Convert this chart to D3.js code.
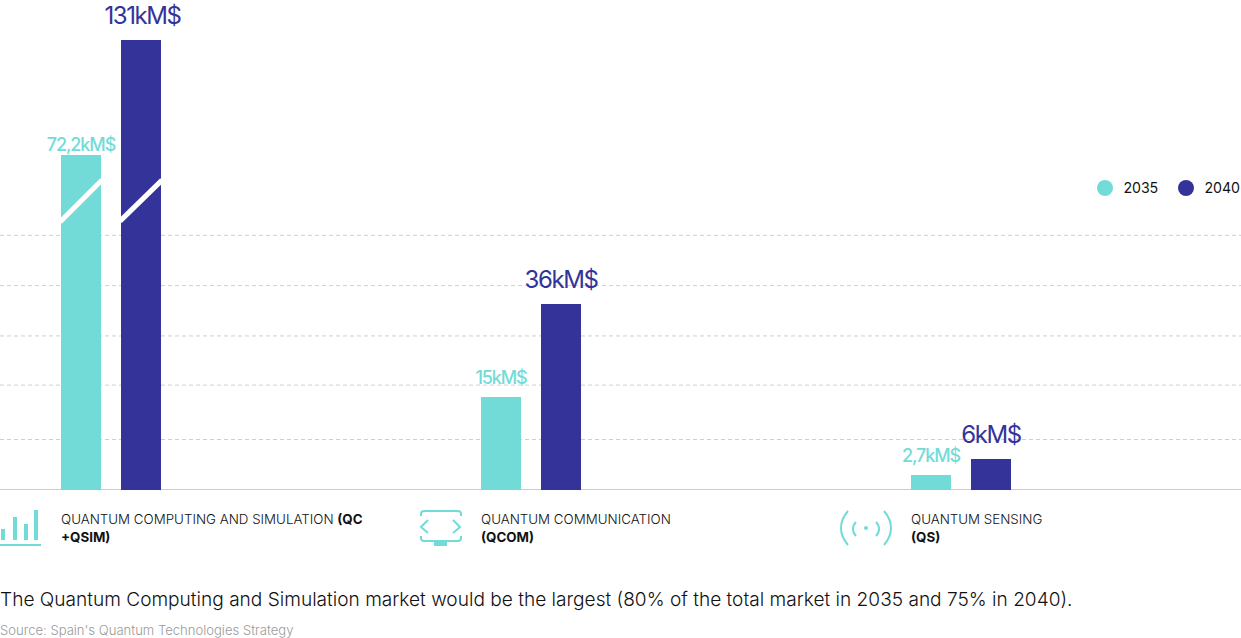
<!DOCTYPE html>
<html>
<head>
<meta charset="utf-8">
<script src="https://cdn.jsdelivr.net/npm/d3@7"></script>
<style>
  html, body { margin: 0; padding: 0; background: #fff; }
  svg { display: block; font-family: Inter, sans-serif; }
  .grid line { stroke: #cfcfcf; stroke-dasharray: 4 3; }
  .grid path { display: none; }
  .icon { fill: none; stroke: #73dbd7; stroke-width: 2; }
</style>
</head>
<body>
<div id="viz"></div>
<script>
const categories = ["QUANTUM COMPUTING AND SIMULATION", "QUANTUM COMMUNICATION", "QUANTUM SENSING"];
const years = ["2035", "2040"];
const values2035 = [72.2, 15, 2.7];
const values2040 = [131, 36, 6];
const gridValues = [8.9, 17.8, 28.9, 40.6, 52.8];

const width = 1241;
const height = 638;
const baseY = 490;
const teal = "#73dbd7";
const navy = "#343399";

const svg = d3.select("#viz").append("svg")
    .attr("width", width)
    .attr("height", height);

// the bars in the picture are not proportional, so the scale is piecewise
const y = d3.scaleLinear()
    .domain([0, 2.7, 6, 15, 36, 72.2, 131])
    .range([baseY, 475, 459, 397, 304, 155, 40]);

const groupX = d3.scaleOrdinal().domain(categories).range([61, 481, 911]);
const barX = d3.scaleBand().domain(years).range([0, 100]).paddingInner(1 / 3);
const color = d3.scaleOrdinal().domain(years).range([teal, navy]);

const series = years.map((year, s) => ({
    year: year,
    values: categories.map((c, i) => ({
        year: year,
        category: c,
        value: (s === 0 ? values2035 : values2040)[i]
    }))
}));
const bars = series.flatMap(s => s.values);

// Grid
svg.append("g")
    .attr("class", "grid")
    .call(d3.axisRight(y).tickValues(gridValues).tickSize(width).tickFormat(""));

// Baseline
svg.append("line")
    .attr("x1", 0).attr("x2", width)
    .attr("y1", baseY - 0.5).attr("y2", baseY - 0.5)
    .attr("stroke", "#cccccc");

// Bars
svg.selectAll(".bar")
    .data(bars)
    .enter()
    .append("rect")
    .attr("class", "bar")
    .attr("x", d => groupX(d.category) + barX(d.year))
    .attr("y", d => y(d.value))
    .attr("width", barX.bandwidth())
    .attr("height", d => baseY - y(d.value))
    .attr("fill", d => color(d.year));

// Axis-break slash on the two tallest bars
svg.selectAll(".slash")
    .data(bars.filter(d => d.value > 70))
    .enter()
    .append("line")
    .attr("class", "slash")
    .attr("x1", d => groupX(d.category) + barX(d.year) - 1)
    .attr("x2", d => groupX(d.category) + barX(d.year) + barX.bandwidth() + 1)
    .attr("y1", d => y(61) + (d.year === "2035" ? 21 : 20))
    .attr("y2", d => y(61) - 21)
    .attr("stroke", "#fff")
    .attr("stroke-width", 5);

// Value labels
const fmt = v => String(v).replace(".", ",") + "kM$";
svg.selectAll(".value-label")
    .data(bars)
    .enter()
    .append("text")
    .attr("class", "value-label")
    .attr("x", d => groupX(d.category) + barX(d.year) + barX.bandwidth() / 2 + (d.value > 100 ? 1.5 : 0))
    .attr("y", d => y(d.value) - (d.year === "2040" ? 16 : d.value > 70 ? 4 : 13))
    .attr("text-anchor", "middle")
    .attr("fill", d => color(d.year))
    .style("font-size", d => d.year === "2040" ? "24px" : "18px")
    .style("font-weight", d => d.year === "2040" ? 400 : 500)
    .style("letter-spacing", d => d.year === "2040" ? "-1.4px" : "-1.1px")
    .text(d => fmt(d.value));

// Legend
const legendX = d3.scaleOrdinal().domain(years).range([1105, 1186]);
const legend = svg.selectAll(".legend")
    .data(years)
    .enter()
    .append("g")
    .attr("class", "legend")
    .attr("transform", d => "translate(" + legendX(d) + ",188)");
legend.append("circle").attr("r", 8).attr("fill", d => color(d));
legend.append("text")
    .attr("x", 18.5).attr("y", 5)
    .style("font-size", "14.2px")
    .style("letter-spacing", "-0.1px")
    .attr("fill", "#111")
    .text(d => d);

// Category labels
const catLines = [
    [["QUANTUM COMPUTING AND SIMULATION ", 300], ["(QC", 700]],
    [["+QSIM)", 700]],
    [["QUANTUM COMMUNICATION", 300]],
    [["(QCOM)", 700]],
    [["QUANTUM SENSING", 300]],
    [["(QS)", 700]]
];
categories.forEach((c, i) => {
    [0, 1].forEach(l => {
        const t = svg.append("text")
            .attr("x", groupX(c))
            .attr("y", 524 + l * 18)
            .attr("fill", "#111")
            .style("font-size", "13.35px");
        catLines[i * 2 + l].forEach(p => {
            t.append("tspan").attr("font-weight", p[1]).text(p[0]);
        });
    });
});

// Icons
const bi = svg.append("g").attr("class", "icon");
[[3, 529], [15, 517], [26, 524], [36, 510]].forEach(b => {
    bi.append("line").attr("x1", b[0]).attr("x2", b[0]).attr("y1", b[1]).attr("y2", 540).attr("stroke-width", 4);
});
bi.append("line").attr("x1", 0).attr("x2", 41).attr("y1", 545).attr("y2", 545);

const ci = svg.append("g").attr("class", "icon");
ci.append("path").attr("d", "M421,516V514Q421,511 424,511H458Q461,511 461,514V516");
ci.append("path").attr("d", "M421,536V538Q421,541 424,541H458Q461,541 461,538V536");
ci.append("path").attr("d", "M428,520L421,527L428,533");
ci.append("path").attr("d", "M453,520L460,527L453,533");
svg.append("rect").attr("x", 434).attr("y", 541).attr("width", 13).attr("height", 5).attr("fill", teal);

const si = svg.append("g").attr("class", "icon");
si.append("path").attr("d", "M848,511Q841,519 841,528Q841,537 848,545");
si.append("path").attr("d", "M884,511Q891,519 891,528Q891,537 884,545");
si.append("path").attr("d", "M856,522Q853,525 853,529Q853,533 856,536");
si.append("path").attr("d", "M876,522Q879,525 879,529Q879,533 876,536");
svg.append("circle").attr("cx", 866).attr("cy", 528).attr("r", 2).attr("fill", teal);

// Caption and source
svg.append("text")
    .attr("x", 0).attr("y", 606)
    .attr("fill", "#111")
    .style("font-size", "19.1px")
    .style("font-weight", 300)
    .text("The Quantum Computing and Simulation market would be the largest (80% of the total market in 2035 and 75% in 2040).");
svg.append("text")
    .attr("x", 0).attr("y", 635)
    .attr("fill", "#9a9a9a")
    .style("font-size", "13.07px")
    .style("font-weight", 300)
    .text("Source: Spain's Quantum Technologies Strategy");
</script>
</body>
</html>
